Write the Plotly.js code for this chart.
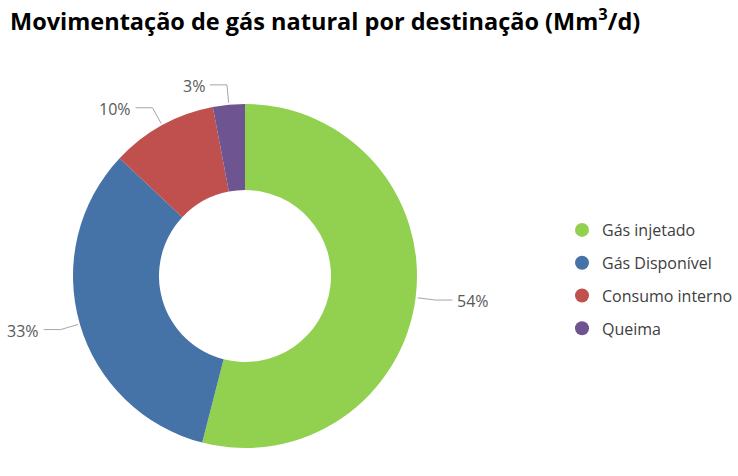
<!DOCTYPE html>
<html><head><meta charset="utf-8">
<script src="https://cdn.plot.ly/plotly-3.0.1.min.js"></script>
<style>html,body{margin:0;padding:0;background:#fff}#chart{width:738px;height:476px}</style>
</head><body><div id="chart"></div>
<script>
const categories = ['Gás injetado', 'Gás Disponível', 'Consumo interno', 'Queima'];
const values = [54, 33, 10, 3];
const colors = ['#92D050', '#4572A7', '#C0504D', '#6E5591'];
const percentLabels = ['54%', '33%', '10%', '3%'];

const W = 738, H = 476;
const cx = 245, cy = 276, R = 172;
const FONT = '"Open Sans", "Noto Sans", sans-serif';

const total = values.reduce((a, b) => a + b, 0);
const traces = [];
traces.push({
  type: 'pie', labels: categories, values: values, sort: false, direction: 'clockwise',
  rotation: 0, hole: 0.5, marker: {colors: colors, line: {width: 0}},
  textinfo: 'none', hoverinfo: 'none', showlegend: false,
  domain: {x: [(cx - R) / W, (cx + R) / W], y: [1 - (cy + R) / H, 1 - (cy - R) / H]}
});

const annotations = [];
let cum = 0;
values.forEach((v, i) => {
  const mid = (cum + v / 2) / total; cum += v;
  const th = (90 - 360 * mid) * Math.PI / 180;
  const ux = Math.cos(th), uy = -Math.sin(th);
  const side = ux >= 0 ? 1 : -1;
  const p0 = [cx + (R + 2) * ux, cy + (R + 2) * uy];
  const p1 = [cx + (R + 20) * ux, cy + (R + 20) * uy];
  const p2 = [p1[0] + side * 17, p1[1]];
  traces.push({type: 'scatter', mode: 'lines', x: [p0[0], p1[0], p2[0]], y: [p0[1], p1[1], p2[1]],
    line: {color: '#A6A6A6', width: 1}, showlegend: false, hoverinfo: 'skip'});
  annotations.push({x: p2[0] + side * 3, y: p2[1] + 1, xref: 'x', yref: 'y', text: percentLabels[i],
    showarrow: false, xanchor: side > 0 ? 'left' : 'right', yanchor: 'middle',
    font: {family: FONT, size: 16, color: '#595959'}});
});

categories.forEach((c, i) => {
  traces.push({type: 'scatter', mode: 'markers', x: [null], y: [null], name: c,
    legendgroup: 'g' + i, marker: {symbol: 'circle', size: 14, color: colors[i]}, hoverinfo: 'skip'});
});

const layout = {
  width: W, height: H, margin: {l: 0, r: 0, t: 0, b: 0},
  paper_bgcolor: '#fff', plot_bgcolor: 'rgba(0,0,0,0)',
  title: {text: 'Movimentação de gás natural por destinação (Mm<sup>3</sup>/d)', x: 10 / W, xanchor: 'left',
    xref: 'container', yref: 'container', y: 1 - 22 / H, yanchor: 'middle',
    font: {family: FONT, size: 23.5, color: '#000', weight: 'bold'}},
  xaxis: {range: [0, W], visible: false, fixedrange: true},
  yaxis: {range: [H, 0], visible: false, fixedrange: true},
  showlegend: true,
  legend: {x: 562 / W, xanchor: 'left', y: 1 - 213 / H, yanchor: 'top', tracegroupgap: 9,
    font: {family: FONT, size: 16, color: '#404040'}, bgcolor: 'rgba(0,0,0,0)'},
  annotations: annotations
};
Plotly.newPlot('chart', traces, layout, {staticPlot: true});
</script></body></html>
